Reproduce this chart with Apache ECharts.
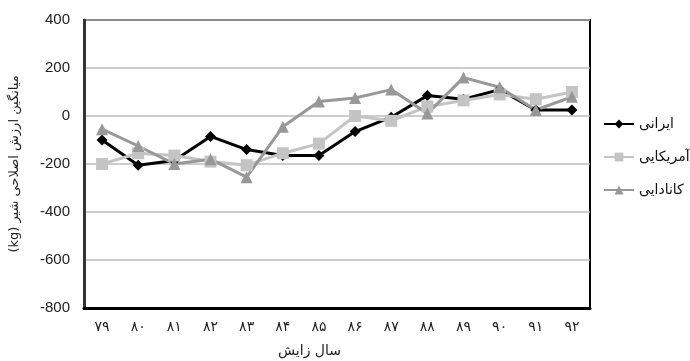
<!DOCTYPE html>
<html>
<head>
<meta charset="utf-8">
<script src="https://cdn.jsdelivr.net/npm/echarts@6/dist/echarts.min.js"></script>
<style>
  html, body { margin: 0; padding: 0; background: #fff; }
  #chart { width: 690px; height: 361px; }
</style>
</head>
<body>
<div id="chart"></div>
<script>
// Calving years (Persian calendar, Persian digits)
const years = ['۷۹', '۸۰', '۸۱', '۸۲', '۸۳', '۸۴', '۸۵', '۸۶', '۸۷', '۸۸', '۸۹', '۹۰', '۹۱', '۹۲'];

// Mean milk breeding value (kg) per origin group
const iranian  = [-100, -205, -185, -85, -140, -165, -165, -65, -5, 85, 70, 110, 25, 25];
const american = [-200, -155, -165, -190, -205, -155, -115, 0, -20, 40, 65, 90, 70, 100];
const canadian = [-55, -125, -200, -180, -255, -45, 60, 75, 110, 10, 160, 120, 25, 80];

const seriesNames = ['ایرانی', 'آمریکایی', 'کانادایی'];
const yTicks = { min: -800, max: 400, interval: 200 };

const latin = 'Arial, "Liberation Sans", sans-serif';
const persian = '"DejaVu Sans", "Noto Sans", sans-serif';

const chart = echarts.init(document.getElementById('chart'), null, { renderer: 'canvas' });

function lineSeries(name, data, color, symbol, size) {
  return {
    name: name,
    type: 'line',
    data: data,
    symbol: symbol,
    symbolSize: size,
    lineStyle: { color: color, width: 3 },
    itemStyle: { color: color },
    z: 3
  };
}

chart.setOption({
  animation: false,
  backgroundColor: '#fff',
  grid: {
    left: 81, right: 100, top: 20, bottom: 53,
    show: true, borderColor: '#000', borderWidth: 2, backgroundColor: 'transparent'
  },
  legend: {
    orient: 'vertical',
    left: 598,
    top: 112,
    itemGap: 19,
    itemWidth: 30,
    itemHeight: 11,
    data: seriesNames,
    textStyle: { fontFamily: persian, fontSize: 14, color: '#111' }
  },
  xAxis: {
    type: 'category',
    data: years,
    boundaryGap: true,
    axisLine: { show: true, onZero: false, lineStyle: { color: '#000', width: 3 } },
    axisTick: { show: false },
    axisLabel: { fontFamily: persian, fontSize: 14, color: '#222', margin: 12 },
    splitLine: { show: false }
  },
  yAxis: {
    type: 'value',
    min: yTicks.min,
    max: yTicks.max,
    interval: yTicks.interval,
    name: '(kg) میانگین ارزش اصلاحی شیر',
    nameLocation: 'middle',
    nameRotate: 90,
    nameGap: 63,
    nameTextStyle: { fontFamily: persian, fontSize: 13, color: '#222' },
    axisLine: { show: true, lineStyle: { color: '#333', width: 3 } },
    axisTick: { show: false },
    axisLabel: { fontFamily: latin, fontSize: 15, color: '#222', margin: 14 },
    splitLine: { show: true, lineStyle: { color: '#bdbdbd', width: 1.5 } }
  },
  graphic: [{
    type: 'text',
    left: 278,
    top: 344,
    style: { text: 'سال زایش', font: '14px "DejaVu Sans", sans-serif', fill: '#222' }
  }],
  series: [
    lineSeries(seriesNames[0], iranian, '#000000', 'diamond', 11),
    lineSeries(seriesNames[1], american, '#c4c4c4', 'rect', 12),
    lineSeries(seriesNames[2], canadian, '#989898', 'triangle', 12)
  ]
});
</script>
</body>
</html>
